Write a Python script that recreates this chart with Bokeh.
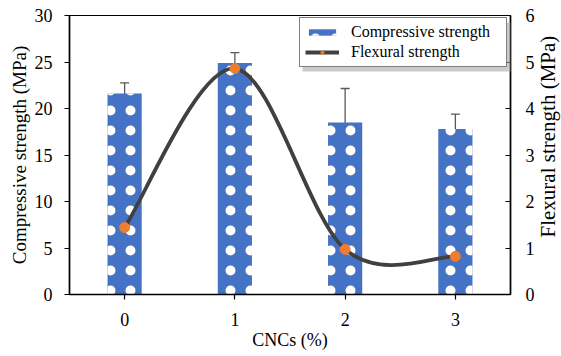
import math
from bokeh.plotting import figure
from bokeh.layouts import row
from bokeh.models import (ColumnDataSource, Range1d, LinearAxis, Whisker, Legend,
                          LegendItem, BoxAnnotation, FixedTicker, TeeHead, Label)
from bokeh.embed import file_html
from bokeh.resources import INLINE

# ---- data ----
cncs = [0, 1, 2, 3]
x_tick_labels = ["0", "1", "2", "3"]
comp = [21.6, 24.9, 18.5, 17.8]          # compressive strength (MPa)
comp_sd = [1.15, 1.1, 3.65, 1.6]         # error bar half-length
flex = [1.44, 4.86, 0.97, 0.82]          # flexural strength (MPa)
left_ticks = [0, 5, 10, 15, 20, 25, 30]
right_ticks = [0, 1, 2, 3, 4, 5, 6]

FONT = "Liberation Serif"
BLUE = "#4472C4"
ORANGE = "#ED7D31"
LINE = "#404040"

SIDE_W = 24
W, H = 561 - SIDE_W, 356
ML, MR, MT, MB = 69, 49 - SIDE_W, 15, 62

p = figure(width=W, height=H, x_range=Range1d(-0.5, 3.5), y_range=Range1d(0, 30),
           output_backend="svg", toolbar_location=None,
           min_border_left=ML, min_border_right=MR, min_border_top=MT, min_border_bottom=MB)
p.extra_y_ranges = {"flex": Range1d(0, 6)}
p.xgrid.visible = False
p.ygrid.visible = False
p.outline_line_color = "black"
p.outline_line_width = 1.2
p.background_fill_color = "white"
p.border_fill_color = "white"

src = ColumnDataSource(dict(x=cncs, comp=comp,
                            upper=[c + s for c, s in zip(comp, comp_sd)],
                            lower=[c - s for c, s in zip(comp, comp_sd)],
                            flex=flex))

bars = p.vbar(x="x", top="comp", width=0.31, source=src, fill_color=BLUE,
              line_color=None, hatch_pattern="dot", hatch_color="white",
              hatch_scale=20, hatch_weight=0.3)

wh = Whisker(source=src, base="x", upper="upper", lower="lower",
             line_color="#595959", line_width=1.3,
             upper_head=TeeHead(size=9, line_color="#595959", line_width=1.3),
             lower_head=TeeHead(size=9, line_color="#595959", line_width=1.3))
p.add_layout(wh)

# Smoothed (Catmull-Rom style) curve via cubic Bezier segments
n = len(cncs)
x0, y0, x1, y1, cx0, cy0, cx1, cy1 = [], [], [], [], [], [], [], []
for i in range(n - 1):
    pa = (cncs[max(i - 1, 0)], flex[max(i - 1, 0)])
    pb = (cncs[i], flex[i])
    pc = (cncs[i + 1], flex[i + 1])
    pd = (cncs[min(i + 2, n - 1)], flex[min(i + 2, n - 1)])
    x0.append(pb[0]); y0.append(pb[1]); x1.append(pc[0]); y1.append(pc[1])
    cx0.append(pb[0] + (pc[0] - pa[0]) / 6); cy0.append(pb[1] + (pc[1] - pa[1]) / 6)
    cx1.append(pc[0] - (pd[0] - pb[0]) / 6); cy1.append(pc[1] - (pd[1] - pb[1]) / 6)
bz = p.bezier(x0=x0, y0=y0, x1=x1, y1=y1, cx0=cx0, cy0=cy0, cx1=cx1, cy1=cy1,
              line_color=LINE, line_width=3.8, y_range_name="flex")
pts = p.scatter(x="x", y="flex", source=src, size=10, fill_color=ORANGE,
                line_color=ORANGE, y_range_name="flex")

# axes
xa = p.xaxis[0]
xa.ticker = FixedTicker(ticks=cncs)
xa.major_label_overrides = {c: t for c, t in zip(cncs, x_tick_labels)}
xa.axis_label = "CNCs (%)"
xa.major_tick_out = 5
xa.major_tick_in = 0
xa.minor_tick_out = 0
xa.major_label_standoff = 13
xa.axis_label_standoff = 1

ya = p.yaxis[0]
ya.ticker = FixedTicker(ticks=left_ticks)
ya.axis_label = "Compressive strength (MPa)"
ya.major_tick_out = 5
ya.major_tick_in = 0
ya.minor_tick_out = 0
ya.major_label_standoff = 12
ya.axis_label_standoff = 2

ra = LinearAxis(y_range_name="flex", ticker=FixedTicker(ticks=right_ticks))
ra.major_tick_out = 0
ra.major_tick_in = 5
ra.minor_tick_out = 0
ra.minor_tick_in = 0
ra.major_label_standoff = 15
p.add_layout(ra, "right")

for ax in (xa, ya, ra):
    ax.axis_line_color = "black"
    ax.axis_line_width = 1.6
    ax.major_tick_line_color = "black"
    ax.major_tick_line_width = 1.2
    ax.major_label_text_font = FONT
    ax.major_label_text_font_size = "18px"
    ax.major_label_text_color = "black"
    ax.axis_label_text_font = FONT
    ax.axis_label_text_font_style = "normal"
    ax.axis_label_text_color = "black"
xa.axis_label_text_font_size = "18px"
ya.axis_label_text_font_size = "19px"

# legend shadow
shadow = BoxAnnotation(left=302, right=511, top=22, bottom=71,
                       left_units="canvas", right_units="canvas",
                       top_units="canvas", bottom_units="canvas",
                       fill_color="#a0a0a0", fill_alpha=0.55, line_color=None)
p.add_layout(shadow)

legend = Legend(items=[LegendItem(label="Compressive strength", renderers=[bars]),
                       LegendItem(label="Flexural strength", renderers=[bz, pts])],
                location=(230, 227))
legend.label_text_font = FONT
legend.label_text_font_size = "16px"
legend.label_text_color = "black"
legend.glyph_width = 34
legend.glyph_height = 8
legend.label_height = 18
legend.label_width = 150
legend.label_standoff = 12
legend.spacing = 2
legend.padding = 5
legend.margin = 0
legend.border_line_color = "black"
legend.border_line_width = 1.2
legend.background_fill_color = "white"
legend.background_fill_alpha = 1.0
p.add_layout(legend, "center")

# right-hand axis title (reads bottom-to-top) in a narrow side panel
side = figure(width=SIDE_W, height=H, x_range=Range1d(0, 1), y_range=Range1d(0, 1),
              output_backend="svg", toolbar_location=None, min_border=0)
side.axis.visible = False
side.xgrid.visible = False
side.ygrid.visible = False
side.outline_line_color = None
side.background_fill_color = "white"
side.border_fill_color = "white"
side.add_layout(Label(x=0.45, y=(MB + (H - MT - MB) / 2) / H,
                      text="Flexural strength (MPa)", angle=math.pi / 2,
                      text_align="center", text_baseline="middle",
                      text_font=FONT, text_font_size="21px", text_color="black"))

layout = row(p, side, spacing=0)
open("out.html", "w").write(file_html(layout, INLINE))
